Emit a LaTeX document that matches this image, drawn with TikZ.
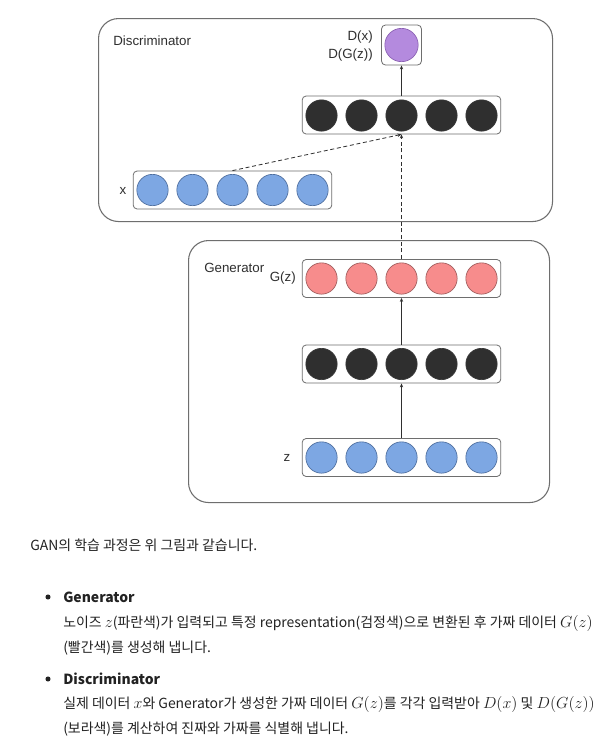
\documentclass[tikz,border=0pt]{standalone}
\usepackage[no-math]{fontspec}
\setmainfont{Liberation Sans}
\newfontfamily\krfont{Noto Sans CJK KR}
\usetikzlibrary{arrows.meta,positioning}
\definecolor{gnblue}{HTML}{7DA7E3}
\definecolor{gnblueline}{HTML}{4F6F9F}
\definecolor{gnred}{HTML}{F78C8C}
\definecolor{gnredline}{HTML}{A05D5D}
\definecolor{gnpurple}{HTML}{B48ADE}
\definecolor{gnpurpleline}{HTML}{8A60B2}
\definecolor{gndark}{HTML}{2F2F2F}
\definecolor{gndarkline}{HTML}{3A3A3A}
\definecolor{gnframe}{HTML}{6E6E6E}
\definecolor{gntext}{HTML}{222222}
\newcommand{\mbig}[1]{{\fontsize{12.4}{14}\selectfont$#1$}}

\begin{document}
\begin{tikzpicture}[x=0.75pt,y=-0.75pt,
  panel/.style={draw=gnframe, line width=0.8pt, rounded corners=15pt, anchor=north west},
  layerbox/.style={draw=gnframe, line width=0.6pt, rounded corners=3pt, minimum width=149pt, minimum height=28.5pt},
  neuron/.style={circle, draw=#1line, fill=#1, line width=0.5pt, minimum size=23.5pt, inner sep=0pt},
  lbl/.style={font=\fontsize{10}{12}\selectfont, text=gndark, inner sep=0pt},
  flow/.style={-{Stealth[length=3pt,width=2.5pt]}, line width=0.6pt, gndark},
  para/.style={font=\krfont\fontsize{10.45}{12}\selectfont, text=gntext, inner sep=0pt, anchor=base west},
  bul/.style={circle, fill=gntext, inner sep=0pt, minimum size=3.8pt}]
  \fill[white] (0,0) rectangle (614,744);
  \useasboundingbox (0,0) rectangle (614,744);

  %--- Discriminator ---
  \node[panel, minimum width=340.5pt, minimum height=152.25pt] (disc) at (98,18) {};
  \node[lbl, anchor=west] (disclbl) at (113,41) {Discriminator};

  % output unit
  \node[draw=gnframe, line width=0.6pt, rounded corners=3pt, minimum size=30pt] (outbox) at (401.5,45) {};
  \node[neuron=gnpurple, minimum size=25pt] (out) at (401.5,45) {};
  \node[lbl, anchor=east] (dxlbl) at (373,37) {D(x)};
  \node[lbl, anchor=east] (dgzlbl) at (373,55) {D(G(z))};

  % hidden layer
  \node[layerbox] (dhbox) at (401.5,115) {};
  \foreach \i in {1,...,5}
    \node[neuron=gndark] (dh\i) at (281.5+40*\i,115.5) {};

  % real data
  \node[layerbox] (xbox) at (232.5,190) {};
  \foreach \i in {1,...,5}
    \node[neuron=gnblue] (x\i) at (112.5+40*\i,190) {};
  \node[lbl] (xlbl) at (123,191) {x};

  %--- Generator ---
  \node[panel, minimum width=270.75pt, minimum height=196.5pt] (gen) at (188,240) {};
  \node[lbl, anchor=west] (genlbl) at (204,268) {Generator};

  % fake data
  \node[layerbox] (gzbox) at (401.5,278.5) {};
  \foreach \i in {1,...,5}
    \node[neuron=gnred] (gz\i) at (281.5+40*\i,278.5) {};
  \node[lbl, anchor=east] (gzlbl) at (296,278) {G(z)};

  % hidden layer
  \node[layerbox] (ghbox) at (401.5,364) {};
  \foreach \i in {1,...,5}
    \node[neuron=gndark] (gh\i) at (281.5+40*\i,364) {};

  % noise
  \node[layerbox] (zbox) at (401.5,457.5) {};
  \foreach \i in {1,...,5}
    \node[neuron=gnblue] (z\i) at (281.5+40*\i,457.5) {};
  \node[lbl] (zlbl) at (287,458) {z};

  %--- connectors ---
  \draw[flow] (zbox.north) -- (ghbox.south);
  \draw[flow] (ghbox.north) -- (gzbox.south);
  \draw[flow, dash pattern=on 3pt off 2pt] (gzbox.north) -- (dhbox.south);
  \draw[flow, dash pattern=on 3pt off 2pt] (xbox.north) -- (dhbox.south);
  \draw[flow] (dhbox.north) -- (outbox.south);

  %--- text ---
  \node[para] (intro) at (30,550) {GAN의 학습 과정은 위 그림과 같습니다.};

  \node[bul] (bul1) at (48,597) {};
  \node[para, font=\krfont\bfseries\fontsize{10.45}{12}\selectfont] (gentitle) at (63,602) {Generator};
  \node[para] (gentxta) at (63,627) {노이즈 \mbig{z}(파란색)가 입력되고 특정 representation(검정색)으로 변환된 후 가짜 데이터 \mbig{G(z)}};
  \node[para] (gentxtb) at (63,652) {(빨간색)를 생성해 냅니다.};

  \node[bul] (bul2) at (48,679) {};
  \node[para, font=\krfont\bfseries\fontsize{10.45}{12}\selectfont] (disctitle) at (63,684) {Discriminator};
  \node[para] (disctxta) at (63,708) {실제 데이터 \mbig{x}와 Generator가 생성한 가짜 데이터 \mbig{G(z)}를 각각 입력받아 \mbig{D(x)} 및 \mbig{D(G(z))}};
  \node[para] (disctxtb) at (63,733) {(보라색)를 계산하여 진짜와 가짜를 식별해 냅니다.};
\end{tikzpicture}
\end{document}
